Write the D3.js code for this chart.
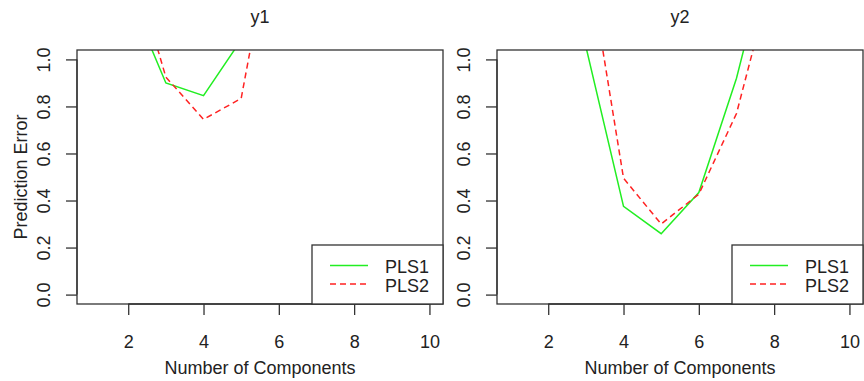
<!DOCTYPE html>
<html>
<head>
<meta charset="utf-8">
<script src="https://cdn.jsdelivr.net/npm/d3@7"></script>
<style>
  html, body { margin: 0; padding: 0; background: #fff; }
  svg text { font-family: "Liberation Sans", Arial, sans-serif; fill: #222; }
</style>
</head>
<body>
<svg id="chart" width="864" height="381"></svg>
<script>
// ---- data ----
const components = [1, 2, 3, 4, 5, 6, 7, 8, 9, 10];
const panelTitles = ["y1", "y2"];
const seriesNames = ["PLS1", "PLS2"];
const y1PLS1 = [1.60, 1.28, 0.900, 0.846, 1.083, 1.40, 1.70, 1.90, 2.00, 2.10];
const y1PLS2 = [1.80, 1.47, 0.925, 0.745, 0.834, 1.69, 1.90, 2.10, 2.20, 2.30];
const y2PLS1 = [2.00, 1.50, 1.055, 0.375, 0.259, 0.434, 0.920, 1.55, 1.90, 2.10];
const y2PLS2 = [2.00, 1.80, 1.485, 0.495, 0.300, 0.427, 0.770, 1.384, 1.80, 2.00];
const xTicks = [2, 4, 6, 8, 10];
const yTicks = [0, 0.2, 0.4, 0.6, 0.8, 1.0];
const xLabel = "Number of Components";
const yLabel = "Prediction Error";

const panels = [
  { title: panelTitles[0], series: [y1PLS1, y1PLS2], left: 77, right: 443, showYLabel: true },
  { title: panelTitles[1], series: [y2PLS1, y2PLS2], left: 497, right: 863, showYLabel: false }
];
const seriesStyle = [
  { color: "#22ee22", dash: null },
  { color: "#ff2222", dash: "6,4" }
];

const plotTop = 50, plotBottom = 304;
const svg = d3.select("#chart");

panels.forEach((p, i) => {
  const x = d3.scaleLinear().domain([0.64, 10.36]).range([p.left, p.right]);
  const y = d3.scaleLinear().domain([-0.04, 1.04]).range([plotBottom, plotTop]);
  const g = svg.append("g");

  const clipId = "clip" + i;
  svg.append("clipPath").attr("id", clipId)
    .append("rect").attr("x", p.left).attr("y", plotTop)
    .attr("width", p.right - p.left).attr("height", plotBottom - plotTop);

  // lines
  const line = d3.line().x((d, k) => x(components[k])).y(d => y(d));
  p.series.forEach((s, k) => {
    g.append("path")
      .attr("clip-path", `url(#${clipId})`)
      .attr("d", line(s))
      .attr("fill", "none")
      .attr("stroke", seriesStyle[k].color)
      .attr("stroke-width", 1.5)
      .attr("stroke-dasharray", seriesStyle[k].dash);
  });

  // box
  g.append("rect").attr("x", p.left).attr("y", plotTop)
    .attr("width", p.right - p.left).attr("height", plotBottom - plotTop)
    .attr("fill", "none").attr("stroke", "#333").attr("stroke-width", 1.3);

  // x axis
  const xAxis = d3.axisBottom(x).tickValues(xTicks).tickSize(11)
    .tickFormat(d3.format("d"));
  const xg = g.append("g").attr("transform", `translate(0,${plotBottom})`).call(xAxis);
  xg.select(".domain").attr("d", `M${x(xTicks[0])},0H${x(xTicks[xTicks.length - 1])}`)
    .attr("stroke", "#333").attr("stroke-width", 1.3);
  xg.selectAll(".tick line").attr("stroke", "#333").attr("stroke-width", 1.3);
  xg.selectAll(".tick text").attr("font-size", 18).attr("font-family", null)
    .attr("fill", "#222").attr("dy", null).attr("y", 44);

  // y axis
  const yAxis = d3.axisLeft(y).tickValues(yTicks).tickSize(11).tickFormat(d3.format(".1f"));
  const yg = g.append("g").attr("transform", `translate(${p.left},0)`).call(yAxis);
  yg.select(".domain").attr("d", `M0,${y(yTicks[0])}V${y(yTicks[yTicks.length - 1])}`)
    .attr("stroke", "#333").attr("stroke-width", 1.3);
  yg.selectAll(".tick line").attr("stroke", "#333").attr("stroke-width", 1.3);
  yg.selectAll(".tick text")
    .attr("font-size", 18).attr("font-family", null).attr("fill", "#222")
    .attr("x", null).attr("dy", null).attr("y", null)
    .attr("text-anchor", "middle")
    .attr("transform", "translate(-27,0) rotate(-90)");

  // title
  g.append("text").attr("x", (p.left + p.right) / 2).attr("y", 22.5)
    .attr("text-anchor", "middle").attr("font-size", 18).text(p.title);

  // x label
  g.append("text").attr("x", (p.left + p.right) / 2).attr("y", 374)
    .attr("text-anchor", "middle").attr("font-size", 18).text(xLabel);

  if (p.showYLabel) {
    g.append("text").attr("transform", `translate(26.5,${(plotTop + plotBottom) / 2}) rotate(-90)`)
      .attr("text-anchor", "middle").attr("font-size", 18).text(yLabel);
  }

  // legend
  const lw = 131, lh = 59;
  const lx = p.right - lw, ly = plotBottom - lh;
  const lg = g.append("g");
  lg.append("rect").attr("x", lx).attr("y", ly).attr("width", lw).attr("height", lh)
    .attr("fill", "#fff").attr("stroke", "#333").attr("stroke-width", 1.3);
  seriesNames.forEach((name, k) => {
    const yy = ly + 20.5 + k * 18.5;
    lg.append("line").attr("x1", lx + 18).attr("x2", lx + 56).attr("y1", yy).attr("y2", yy)
      .attr("stroke", seriesStyle[k].color).attr("stroke-width", 1.5)
      .attr("stroke-dasharray", seriesStyle[k].dash);
    lg.append("text").attr("x", lx + 73).attr("y", yy + 7.5)
      .attr("font-size", 18).text(name);
  });
});
</script>
</body>
</html>
